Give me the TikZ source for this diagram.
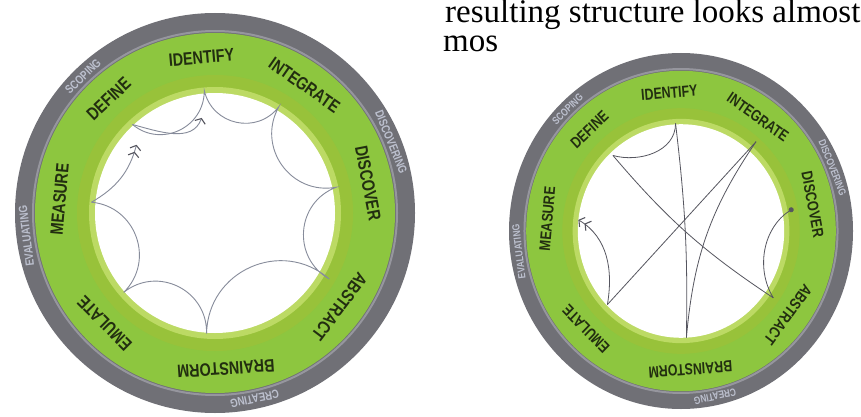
\documentclass[tikz,border=0pt]{standalone}
\usepackage{fontspec}
\setmainfont{Liberation Serif}
\newfontfamily\stagesans{Liberation Sans}
\usetikzlibrary{arrows.meta}

\definecolor{ringgray}{RGB}{112,112,118}
\definecolor{ringlight}{RGB}{150,150,158}
\definecolor{bandgreen}{RGB}{141,198,63}
\definecolor{bandolive}{RGB}{152,194,58}
\definecolor{bandlight}{RGB}{188,218,100}
\definecolor{stagedark}{RGB}{34,46,16}
\definecolor{phaselight}{RGB}{188,192,206}
\definecolor{flowgray}{RGB}{135,140,155}
\definecolor{flowdark}{RGB}{85,85,95}

\tikzset{
  pagetext/.style={font=\fontsize{33}{33}\selectfont, inner sep=0pt},
  stage/.style={font=\stagesans\bfseries\fontsize{18}{18}\selectfont, text=stagedark, inner sep=0pt, xscale=.8},
  phase/.style={font=\stagesans\bfseries\fontsize{12}{12}\selectfont, text=phaselight, inner sep=0pt, xscale=.8},
  loopline/.style={draw=flowgray, line width=.9pt},
  crossline/.style={draw=flowdark, line width=.8pt},
  inbend/.style={bend right=65, looseness=1.2},
  twinhead/.style={-{Straight Barb[length=4pt,width=11pt,sep=2pt,color=flowdark,line width=1.1pt]Straight Barb[length=4pt,width=11pt,color=flowdark,line width=1.1pt]}},
  onehead/.style={-{Straight Barb[length=4pt,width=11pt,color=flowdark,line width=1.1pt]}},
  dotstart/.style={{Circle[length=5pt]}-},
}

% rings and labels of one wheel, #1 = name prefix
\newcommand\drawwheel[1]{%
  \fill[ringgray] (0,0) circle (200);
  \draw[ringlight, line width=2pt] (0,0) circle (182);
  \fill[bandgreen] (0,0) circle (180);
  \fill[bandolive] (0,0) circle (138);
  \fill[bandlight] (0,0) circle (126);
  \fill[white] (0,0) circle (120);
  \foreach \ang/\name/\tag in {95/IDENTIFY/identify, 55/INTEGRATE/integrate,
      11/DISCOVER/discover, -37/ABSTRACT/abstract, -86/BRAINSTORM/brainstorm,
      -135/EMULATE/emulate, 175/MEASURE/measure, 133/DEFINE/define}
    \node[rotate=\ang-90, stage] (#1-\tag) at (\ang:156) {\name};
  \foreach \ang/\name/\tag in {134/SCOPING/scoping, 22/DISCOVERING/discovering,
      -78/CREATING/creating, 187/EVALUATING/evaluating}
    \node[rotate=\ang-90, phase] (#1-\tag) at (\ang:190) {\name};
}

\begin{document}
\begin{tikzpicture}[x=1pt, y=1pt]
  \useasboundingbox (0,0) rectangle (861,416);

  % text of the page behind the figures
  \node[pagetext, anchor=base west] (line1) at (445,393) {resulting structure looks almost};
  \node[pagetext, anchor=base west] (line2) at (443,364) {mos};

  % left wheel: one loop round the stages
  \begin{scope}[shift={(215,203)}, transform shape]
    \drawwheel{L}
    \coordinate (L-at-identify)   at (95:123);
    \coordinate (L-at-integrate)  at (59:124);
    \coordinate (L-at-discover)   at (12:124);
    \coordinate (L-at-abstract)   at (-30:132);
    \coordinate (L-at-brainstorm) at (-94:121);
    \coordinate (L-at-emulate)    at (-139:121);
    \coordinate (L-at-measure)    at (175:124);
    \coordinate (L-at-define)     at (133:121);
    \coordinate (L-tip-define)    at (139:104);
    \coordinate (L-tip-identify)  at (98:96);
    \draw[loopline] (L-at-define) to[inbend] (L-at-identify) to[inbend] (L-at-integrate)
      to[inbend] (L-at-discover) to[inbend] (L-at-abstract) to[inbend] (L-at-brainstorm)
      to[inbend] (L-at-emulate) to[inbend] (L-at-measure);
    \draw[loopline, twinhead] (L-at-measure) to[out=30, in=-105] (L-tip-define);
    \draw[loopline, onehead] (L-at-define) to[out=-15, in=-110] (L-tip-identify);
  \end{scope}

  % right wheel: jumps across the stages
  \begin{scope}[shift={(681,185)}, xscale=.86, yscale=.89, transform shape]
    \drawwheel{R}
    \coordinate (R-at-identify)   at (93:121);
    \coordinate (R-at-define)     at (133:116);
    \coordinate (R-at-integrate)  at (49:133);
    \coordinate (R-at-discover)   at (11:133);
    \coordinate (R-at-abstract)   at (-35:131);
    \coordinate (R-at-brainstorm) at (-87:120);
    \coordinate (R-at-emulate)    at (-136:119);
    \coordinate (R-tip-measure)   at (174:120);
    \draw[crossline] (R-at-define) to[out=-15, in=-90] (R-at-identify);
    \draw[crossline] (R-at-identify) to[bend left=4] (R-at-brainstorm);
    \draw[crossline] (R-at-define) to[bend right=8] (R-at-abstract);
    \draw[crossline] (R-at-integrate) -- (R-at-emulate);
    \draw[crossline] (R-at-integrate) to[bend right=15] (R-at-brainstorm);
    \draw[crossline, dotstart] (R-at-discover) to[bend right=45] (R-at-abstract);
    \draw[crossline, twinhead] (R-at-emulate) to[out=80, in=-30] (R-tip-measure);
  \end{scope}
\end{tikzpicture}
\end{document}
